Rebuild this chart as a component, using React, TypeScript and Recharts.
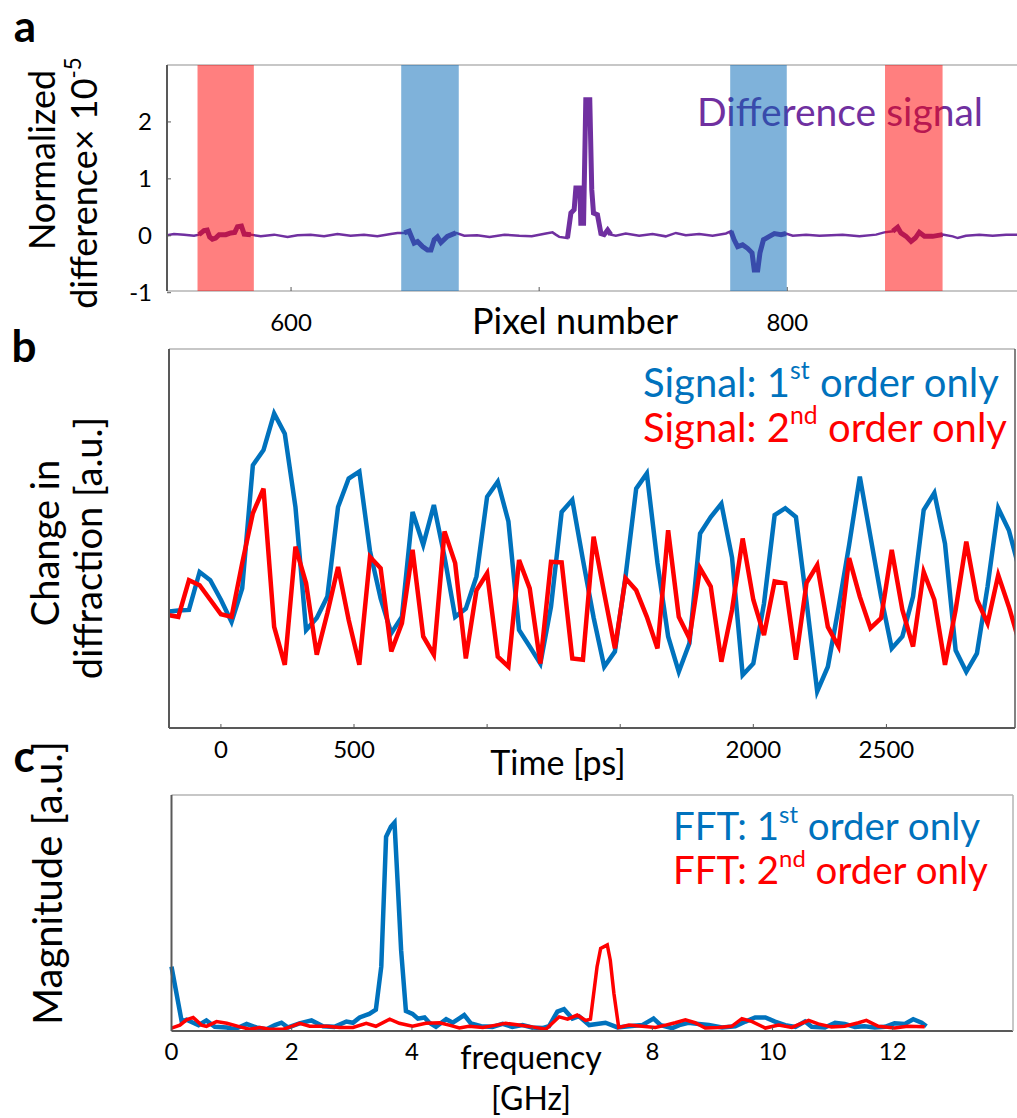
import { LineChart, Line, XAxis, YAxis, ReferenceArea } from 'recharts'

// ---- panel a: normalized difference vs pixel number ----
const pixelNumber = [
  548.8, 552.8, 556.9, 560.9, 562.9, 564.9, 566.2, 567.2, 568.3, 569.6, 571.0, 573.7, 575.7, 577.3,
  578.4, 580.0, 581.1, 583.8, 587.8, 593.2, 598.6, 602.6, 607.9, 613.3, 618.7, 624.0, 629.4, 634.8,
  640.2, 642.9, 645.6, 647.6, 649.6, 651.0, 653.0, 655.0, 656.4, 657.7, 659.0, 660.4, 663.0, 666.4,
  669.8, 675.0, 680.0, 686.0, 692.0, 697.0, 702.7, 705.4, 706.7, 708.1, 711.4, 712.8, 714.1, 714.8,
  716.4, 716.8, 717.9, 718.8, 720.4, 721.2, 721.9, 723.5, 724.9, 726.2, 727.6, 728.9, 730.9, 734.9,
  740.3, 745.7, 751.0, 755.1, 759.1, 764.5, 769.9, 775.3, 777.3, 778.6, 780.0, 782.0, 784.0, 785.8,
  786.7, 788.1, 789.0, 790.4, 792.8, 794.8, 797.5, 799.5, 802.2, 807.6, 813.0, 822.3, 829.1, 835.8,
  839.1, 842.5, 844.5, 845.8, 847.9, 849.9, 851.6, 853.2, 855.3, 858.6, 862.6, 866.7, 868.7, 872.0,
  877.4, 882.8, 888.2, 893.0,
]
const differenceSignal = [
  0.0, 0.03, 0.02, 0.0, 0.02, 0.09, 0.1, -0.02, -0.06, -0.04, 0.02, 0.02, 0.05, 0.06,
  0.16, 0.17, 0.03, 0.02, -0.01, 0.02, -0.02, 0.01, 0.02, -0.01, 0.03, 0.0, 0.02, -0.01,
  0.03, 0.05, 0.05, 0.08, -0.13, -0.1, -0.19, -0.25, -0.25, -0.07, -0.02, -0.12, -0.01, 0.05,
  0.0, 0.01, -0.02, 0.02, 0.0, -0.01, 0.04, 0.06, 0.02, -0.02, -0.04, 0.4, 0.46, 0.84,
  0.84, 0.22, 0.22, 2.39, 2.39, 0.81, 0.4, 0.37, 0.04, 0.02, 0.1, 0.02, 0.0, 0.04,
  0.0, 0.03, -0.01, 0.05, 0.01, 0.03, 0.0, 0.04, 0.08, -0.07, -0.19, -0.16, -0.22, -0.3,
  -0.6, -0.6, -0.3, -0.07, -0.01, 0.04, 0.02, 0.04, 0.0, 0.02, 0.0, 0.02, -0.01, 0.02,
  0.06, 0.08, 0.15, 0.05, -0.01, -0.1, -0.04, 0.06, -0.01, -0.01, 0.02, -0.01, -0.04, 0.0,
  0.02, 0.0, 0.02, 0.02,
]
const redBands = [
  [562.3, 585.0],
  [839.4, 862.6],
]
const blueBands = [
  [644.4, 667.6],
  [777.0, 799.8],
]
const peakRange = [709, 729.5]
const pixelTicks = [600, 700, 800]
const diffTicks = [-1, 0, 1, 2]

// ---- panel b: change in diffraction vs time ----
const timePs = [
  -200, -160, -120, -80, -40, 0, 40, 80, 120, 160, 200, 240, 280, 320, 360, 400, 440, 480, 520, 560,
  600, 640, 680, 720, 760, 800, 840, 880, 920, 960, 1000, 1040, 1080, 1120, 1160, 1200, 1240, 1280,
  1320, 1360, 1400, 1440, 1480, 1520, 1560, 1600, 1640, 1680, 1720, 1760, 1800, 1840, 1880, 1920,
  1960, 2000, 2040, 2080, 2120, 2160, 2200, 2240, 2280, 2320, 2360, 2400, 2440, 2480, 2520, 2560,
  2600, 2640, 2680, 2720, 2760, 2800, 2840, 2880, 2920, 2960, 3000,
]
const firstOrderSignal = [
  1.84, 1.86, 1.87, 2.47, 2.34, 2.03, 1.68, 2.21, 4.16, 4.4, 4.98, 4.66, 3.5, 1.55, 1.74, 2.08, 3.5,
  3.95, 4.06, 2.8, 2.05, 1.5, 1.76, 3.42, 2.9, 3.53, 2.71, 1.76, 1.89, 2.4, 3.66, 3.9, 3.27, 1.55,
  1.29, 1.02, 1.92, 3.42, 3.61, 2.66, 1.75, 0.97, 1.21, 2.4, 3.79, 4.03, 2.61, 1.45, 0.89, 1.34,
  3.08, 3.34, 3.55, 2.7, 0.84, 1.02, 1.97, 3.37, 3.48, 3.34, 2.0, 0.58, 0.97, 1.9, 2.9, 3.98, 3.03,
  2.08, 1.26, 1.45, 2.08, 3.45, 3.72, 2.92, 1.23, 0.89, 1.18, 2.24, 3.48, 3.13, 2.5,
]
const secondOrderSignal = [
  1.79, 1.76, 2.34, 2.26, 2.03, 1.8, 1.76, 2.61, 3.4, 3.79, 1.6, 1.0, 2.87, 2.29, 1.16, 1.82, 2.55,
  1.71, 1.0, 2.71, 2.53, 1.21, 1.66, 2.82, 1.45, 1.16, 3.11, 2.61, 1.1, 2.18, 2.45, 1.13, 0.97, 2.66,
  2.21, 1.02, 2.63, 2.62, 1.1, 1.08, 3.03, 2.13, 1.26, 2.37, 2.18, 1.76, 1.26, 3.13, 1.76, 1.42,
  2.53, 2.24, 1.05, 1.87, 3.0, 2.03, 1.47, 2.32, 2.29, 1.08, 2.3, 2.58, 1.6, 1.29, 2.69, 2.08, 1.58,
  1.74, 2.82, 1.87, 1.29, 2.47, 2.03, 1.0, 1.87, 2.95, 2.03, 1.66, 2.42, 1.92, 1.34,
]
const timeTicks = [0, 500, 1000, 1500, 2000, 2500]
const timeTickLabels = ['0', '500', '', '', '2000', '2500']
const diffractionTicks = [1, 2, 3, 4, 5]

// ---- panel c: FFT magnitude vs frequency ----
const fftFreq1 = [
  0, 0.17, 0.25, 0.36, 0.45, 0.58, 0.72, 0.92, 1.05, 1.25, 1.41, 1.58, 1.72, 1.83, 1.94, 2.13, 2.33,
  2.52, 2.71, 2.91, 3.02, 3.13, 3.29, 3.4, 3.49, 3.57, 3.65, 3.71, 3.76, 3.82, 3.9, 4.01, 4.1, 4.21,
  4.29, 4.4, 4.57, 4.68, 4.87, 4.98, 5.15, 5.34, 5.51, 5.67, 5.84, 6.0, 6.17, 6.28, 6.42, 6.53, 6.67,
  6.78, 6.95, 7.22, 7.42, 7.61, 7.83, 8.02, 8.14, 8.33, 8.45, 8.6, 8.77, 8.94, 9.16, 9.38, 9.55, 9.71,
  9.88, 10.04, 10.21, 10.38, 10.54, 10.65, 10.87, 11.04, 11.2, 11.37, 11.53, 11.7, 11.87, 12.03,
  12.2, 12.34, 12.48, 12.56,
]
const fftMag1 = [
  1.09, 0.16, 0.19, 0.14, 0.1, 0.18, 0.07, 0.06, 0.03, 0.12, 0.06, 0.03, 0.1, 0.14, 0.06, 0.13, 0.18,
  0.08, 0.07, 0.16, 0.14, 0.23, 0.29, 0.36, 1.09, 3.29, 3.46, 3.53, 2.56, 1.37, 0.34, 0.29, 0.21, 0.23,
  0.14, 0.07, 0.2, 0.14, 0.27, 0.13, 0.08, 0.07, 0.12, 0.07, 0.1, 0.06, 0.05, 0.08, 0.33, 0.37, 0.21,
  0.25, 0.1, 0.14, 0.06, 0.08, 0.1, 0.21, 0.1, 0.05, 0.1, 0.14, 0.12, 0.1, 0.06, 0.08, 0.16, 0.23,
  0.23, 0.16, 0.1, 0.07, 0.16, 0.07, 0.06, 0.14, 0.12, 0.07, 0.08, 0.06, 0.07, 0.13,
  0.12, 0.2, 0.14, 0.08,
]
const fftFreq2 = [
  0, 0.14, 0.25, 0.36, 0.5, 0.58, 0.75, 0.92, 1.14, 1.3, 1.47, 1.63, 1.86, 2.0, 2.13, 2.3, 2.58, 2.8,
  3.02, 3.24, 3.4, 3.63, 3.79, 4.01, 4.23, 4.46, 4.62, 4.79, 4.95, 5.18, 5.4, 5.56, 5.78, 6.0, 6.23,
  6.45, 6.59, 6.75, 6.89, 6.97, 7.08, 7.14, 7.25, 7.3, 7.36, 7.44, 7.61, 7.83, 8.05, 8.22, 8.38, 8.55,
  8.71, 8.88, 9.1, 9.32, 9.49, 9.66, 9.88, 10.1, 10.32, 10.6, 10.76, 10.98, 11.2, 11.43, 11.56, 11.76,
  12.03, 12.25, 12.53,
]
const fftMag2 = [
  0.05, 0.1, 0.19, 0.23, 0.1, 0.08, 0.16, 0.13, 0.07, 0.03, 0.06, 0.03, 0.03, 0.08, 0.13, 0.08, 0.08,
  0.06, 0.06, 0.13, 0.08, 0.2, 0.13, 0.08, 0.13, 0.14, 0.1, 0.05, 0.08, 0.06, 0.1, 0.13, 0.1, 0.07,
  0.03, 0.24, 0.2, 0.27, 0.18, 0.2, 1.09, 1.4, 1.46, 1.2, 0.64, 0.06, 0.1, 0.08, 0.06, 0.1, 0.14, 0.19,
  0.14, 0.05, 0.06, 0.08, 0.21, 0.16, 0.05, 0.1, 0.06, 0.18, 0.12, 0.07, 0.08, 0.14, 0.18, 0.08,
  0.05, 0.08, 0.07,
]
const freqTicks = [0, 2, 4, 6, 8, 10, 12]
const magnitudeTicks = [1, 2, 3]

const BLUE = '#0072BD'
const RED = '#FF0000'
const PURPLE = '#7030A0'
const FONT = 'Lato, "Noto Sans", sans-serif'
const AXIS = '#595959'
const FRAME = '#b4b4b4'

const inRange = (p: number, r: number[]) => p >= r[0] && p <= r[1]

const pixelData = pixelNumber.map((p, i) => {
  const v = differenceSignal[i]
  const thick = [...redBands, ...blueBands, peakRange].some((r) => inRange(p, r))
  return { p, v, thick: thick ? v : null }
})

const timeData = timePs.map((t, i) => ({
  t,
  first: firstOrderSignal[i],
  second: secondOrderSignal[i],
}))

const fftData = (() => {
  const rows: { f: number; a?: number; b?: number }[] = []
  fftFreq1.forEach((f, i) => rows.push({ f, a: fftMag1[i] }))
  fftFreq2.forEach((f, i) => {
    const hit = rows.find((r) => r.f === f)
    if (hit) hit.b = fftMag2[i]
    else rows.push({ f, b: fftMag2[i] })
  })
  return rows.sort((x, y) => x.f - y.f)
})()

const tickFont = { fontSize: 24, fill: '#000', fontFamily: FONT }

function Text({
  x,
  y,
  size,
  children,
  color = '#000',
  bold = false,
  rotate = false,
  anchor = 'center',
}: {
  x: number
  y: number
  size: number
  children: React.ReactNode
  color?: string
  bold?: boolean
  rotate?: boolean
  anchor?: 'center' | 'left'
}) {
  const shift = anchor === 'center' ? 'translate(-50%,-50%)' : 'translate(0,-50%)'
  return (
    <div
      style={{
        position: 'absolute',
        left: x,
        top: y,
        fontSize: size,
        color,
        fontWeight: bold ? 700 : 400,
        lineHeight: 1.1,
        whiteSpace: 'nowrap',
        transform: rotate ? `${shift} rotate(-90deg)` : shift,
      }}
    >
      {children}
    </div>
  )
}

const Sup = ({ children }: { children: React.ReactNode }) => (
  <span style={{ fontSize: '0.62em', position: 'relative', top: '-0.72em' }}>{children}</span>
)

export default function App() {
  return (
    <div
      style={{
        position: 'absolute',
        left: 0,
        top: 0,
        width: 1017,
        height: 1118,
        overflow: 'hidden',
        background: '#fff',
        fontFamily: FONT,
      }}
    >
      {/* panel a text */}
      <Text x={25} y={25} size={44} bold>
        a
      </Text>
      <Text x={42} y={160} size={36} rotate>
        Normalized
      </Text>
      <Text x={84} y={183} size={36} rotate>
        difference× 10<Sup>-5</Sup>
      </Text>
      <Text x={575} y={321} size={36}>
        Pixel number
      </Text>
      <Text x={697} y={111} size={39} color={PURPLE} anchor="left">
        Difference signal
      </Text>

      {/* panel b text */}
      <Text x={24} y={345} size={44} bold>
        b
      </Text>
      <Text x={45} y={543} size={38} rotate>
        Change in
      </Text>
      <Text x={88} y={548} size={38} rotate>
        diffraction [a.u.]
      </Text>
      <Text x={558} y={762} size={34}>
        Time [ps]
      </Text>
      <Text x={643} y={382} size={40} color={BLUE} anchor="left">
        Signal: 1<Sup>st</Sup> order only
      </Text>
      <Text x={643} y={427} size={40} color={RED} anchor="left">
        Signal: 2<Sup>nd</Sup> order only
      </Text>

      {/* panel c text */}
      <Text x={24} y={755} size={44} bold>
        c
      </Text>
      <Text x={47} y={883} size={40} rotate>
        Magnitude [a.u.]
      </Text>
      <Text x={531} y={1057} size={32}>
        frequency
      </Text>
      <Text x={531} y={1098} size={32}>
        [GHz]
      </Text>
      <Text x={673} y={825} size={38.5} color={BLUE} anchor="left">
        FFT: 1<Sup>st</Sup> order only
      </Text>
      <Text x={673} y={869} size={38.5} color={RED} anchor="left">
        FFT: 2<Sup>nd</Sup> order only
      </Text>

      {/* panel a chart */}
      <div style={{ position: 'absolute', left: 0, top: 0 }}>
        <LineChart
          width={1020}
          height={360}
          data={pixelData}
          margin={{ top: 64, right: 1, bottom: 39, left: 107 }}
        >
          <XAxis
            dataKey="p"
            type="number"
            domain={[550, 893]}
            ticks={pixelTicks}
            allowDataOverflow
            tickFormatter={(v: number) => (v === 700 ? '' : String(v))}
            tick={tickFont}
            tickSize={-4}
            tickMargin={27}
            height={30}
            axisLine={{ stroke: FRAME, strokeWidth: 1.5 }}
            tickLine={{ stroke: AXIS }}
          />
          <XAxis
            xAxisId="top"
            orientation="top"
            type="number"
            domain={[550, 893]}
            ticks={pixelTicks}
            tick={false}
            tickSize={-4}
            height={1}
            axisLine={{ stroke: FRAME, strokeWidth: 1.5 }}
            tickLine={{ stroke: AXIS }}
          />
          <YAxis
            type="number"
            domain={[-0.97, 3]}
            ticks={diffTicks}
            allowDataOverflow
            tick={tickFont}
            tickSize={-4}
            tickMargin={19}
            width={60}
            axisLine={{ stroke: AXIS, strokeWidth: 2 }}
            tickLine={{ stroke: AXIS }}
          />
          <YAxis
            yAxisId="right"
            orientation="right"
            type="number"
            domain={[-0.97, 3]}
            ticks={diffTicks}
            tick={false}
            tickSize={-4}
            width={1}
            axisLine={{ stroke: FRAME }}
            tickLine={{ stroke: AXIS }}
          />
          <Line
            dataKey="v"
            type="linear"
            stroke={PURPLE}
            strokeWidth={2.5}
            dot={false}
            isAnimationActive={false}
          />
          <Line
            dataKey="thick"
            type="linear"
            stroke={PURPLE}
            strokeWidth={5}
            dot={false}
            isAnimationActive={false}
          />
          {redBands.map((b, i) => (
            <ReferenceArea
              key={`r${i}`}
              x1={b[0]}
              x2={b[1]}
              fill="#FF0000"
              fillOpacity={0.5}
              stroke="none"
              ifOverflow="hidden"
              zIndex={700}
            />
          ))}
          {blueBands.map((b, i) => (
            <ReferenceArea
              key={`b${i}`}
              x1={b[0]}
              x2={b[1]}
              fill="#0066B6"
              fillOpacity={0.5}
              stroke="none"
              ifOverflow="hidden"
              zIndex={700}
            />
          ))}
        </LineChart>
      </div>

      {/* panel b chart */}
      <div style={{ position: 'absolute', left: 0, top: 330 }}>
        <LineChart
          width={1020}
          height={450}
          data={timeData}
          margin={{ top: 18, right: 4, bottom: 22, left: 109 }}
        >
          <XAxis
            dataKey="t"
            type="number"
            domain={[-195, 2983]}
            ticks={timeTicks}
            allowDataOverflow
            tickFormatter={(v: number) => timeTickLabels[timeTicks.indexOf(v)]}
            tick={tickFont}
            tickSize={-4}
            tickMargin={17}
            height={30}
            axisLine={{ stroke: AXIS, strokeWidth: 2 }}
            tickLine={{ stroke: AXIS }}
          />
          <XAxis
            xAxisId="top"
            orientation="top"
            type="number"
            domain={[-195, 2983]}
            ticks={timeTicks}
            tick={false}
            tickSize={-4}
            height={1}
            axisLine={{ stroke: FRAME, strokeWidth: 1.5 }}
            tickLine={{ stroke: AXIS }}
          />
          <YAxis
            type="number"
            domain={[0, 6]}
            ticks={diffractionTicks}
            tick={false}
            tickSize={-4}
            width={60}
            axisLine={{ stroke: AXIS, strokeWidth: 2 }}
            tickLine={{ stroke: AXIS }}
          />
          <YAxis
            yAxisId="right"
            orientation="right"
            type="number"
            domain={[0, 6]}
            ticks={diffractionTicks}
            tick={false}
            tickSize={-4}
            width={1}
            axisLine={{ stroke: AXIS, strokeWidth: 1.5 }}
            tickLine={{ stroke: AXIS }}
          />
          <Line
            dataKey="first"
            type="linear"
            stroke={BLUE}
            strokeWidth={4.5}
            dot={false}
            isAnimationActive={false}
          />
          <Line
            dataKey="second"
            type="linear"
            stroke={RED}
            strokeWidth={4.5}
            dot={false}
            isAnimationActive={false}
          />
        </LineChart>
      </div>

      {/* panel c chart */}
      <div style={{ position: 'absolute', left: 0, top: 770 }}>
        <LineChart
          width={1020}
          height={348}
          data={fftData}
          margin={{ top: 24, right: 6, bottom: 57, left: 111.5 }}
        >
          <XAxis
            dataKey="f"
            type="number"
            domain={[0, 14]}
            ticks={freqTicks}
            tickFormatter={(v: number) => (v === 6 ? '' : String(v))}
            tick={tickFont}
            tickSize={-4}
            tickMargin={16}
            height={30}
            axisLine={{ stroke: AXIS, strokeWidth: 2 }}
            tickLine={{ stroke: AXIS }}
          />
          <XAxis
            xAxisId="top"
            orientation="top"
            type="number"
            domain={[0, 14]}
            ticks={freqTicks}
            tick={false}
            tickSize={-4}
            height={1}
            axisLine={{ stroke: FRAME, strokeWidth: 1.5 }}
            tickLine={{ stroke: AXIS }}
          />
          <YAxis
            type="number"
            domain={[0, 4]}
            ticks={magnitudeTicks}
            tick={false}
            tickSize={-4}
            width={60}
            axisLine={{ stroke: AXIS, strokeWidth: 2 }}
            tickLine={{ stroke: AXIS }}
          />
          <YAxis
            yAxisId="right"
            orientation="right"
            type="number"
            domain={[0, 4]}
            ticks={magnitudeTicks}
            tick={false}
            tickSize={-4}
            width={1}
            axisLine={{ stroke: FRAME, strokeWidth: 1.5 }}
            tickLine={{ stroke: AXIS }}
          />
          <Line
            dataKey="a"
            type="linear"
            stroke={BLUE}
            strokeWidth={4.5}
            dot={false}
            connectNulls
            isAnimationActive={false}
          />
          <Line
            dataKey="b"
            type="linear"
            stroke={RED}
            strokeWidth={3.5}
            dot={false}
            connectNulls
            isAnimationActive={false}
          />
        </LineChart>
      </div>
    </div>
  )
}
